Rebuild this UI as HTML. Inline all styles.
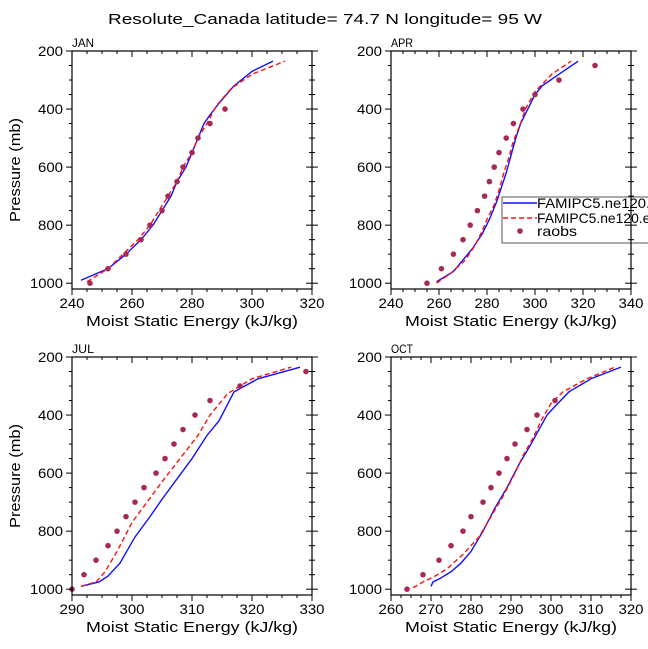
<!DOCTYPE html>
<html><head><meta charset="utf-8"><style>
html,body{margin:0;padding:0;background:#fff;}
svg{display:block;font-family:"Liberation Sans","DejaVu Sans",sans-serif;}
</style></head><body>
<svg id="chart" width="648" height="649" viewBox="0 0 648 649" xmlns="http://www.w3.org/2000/svg">
<text x="325" y="24" text-anchor="middle" font-size="15" textLength="434" lengthAdjust="spacingAndGlyphs">Resolute_Canada  latitude= 74.7 N longitude= 95 W</text>
</svg>
<script>
const panelNames = ["JAN","APR","JUL","OCT"];
const xMins = [240,240,290,260];
const xMaxs = [320,340,330,320];
const xSteps = [20,20,10,10];
const yTicks = [200,400,600,800,1000];

const janBlueE = [243,252,258,263,267,270,273,275,278,280,282,284,286,289,294,300,307];
const janBlueP = [990,950,900,850,800,750,700,650,600,550,500,450,420,380,320,270,235];
const janRedE = [245,252,257,262,266,269,272,275,277,280,282,285,288,293,300,311];
const janRedP = [995,950,900,850,800,750,700,650,600,550,500,450,390,330,280,235];
const janObsE = [246,252,258,263,266,270,272,275,277,280,282,286,291];
const janObsP = [1000,950,900,850,800,750,700,650,600,550,500,450,400];

const aprBlueE = [259,262,266,270,274,278,281,284,286,288,290,292,294,297,300,303,310,318];
const aprBlueP = [995,980,960,920,880,830,780,720,670,620,560,500,450,400,350,320,280,235];
const aprRedE = [259,265,271,275,278,280,283,285,287,289,291,294,296,300,307,315];
const aprRedP = [1000,965,920,870,820,780,730,680,620,570,510,450,400,340,280,235];
const aprObsE = [255,261,266,270,273,276,279,281,283,285,288,291,295,300,310,325];
const aprObsP = [1000,950,900,850,800,750,700,650,600,550,500,450,400,350,300,250];

const julBlueE = [291.5,294.5,296,298,300.5,303,305,307.5,310,312.5,314.5,317,321,328];
const julBlueP = [990,975,955,910,820,750,690,620,550,470,420,320,275,235];
const julRedE = [291.5,294,295.5,297.5,300,302.5,305,308,311,313,316,320,326.5];
const julRedP = [990,975,940,870,770,700,630,550,470,400,325,275,235];
const julObsE = [290,292,294,296,297.5,299,300.5,302,304,305.5,307,308.5,310.5,313,318,329];
const julObsP = [1000,950,900,850,800,750,700,650,600,550,500,450,400,350,300,250];

const octBlueE = [270,270.5,272,275,277.5,280,283,286,289,292,295,297,299,301,304.5,310,317.5];
const octBlueP = [990,975,965,940,910,870,800,720,650,570,500,450,400,370,320,275,235];
const octRedE = [265.5,268,271,274,278,282,285,288,291,293,295.5,297.5,300,303,309,316];
const octRedP = [995,975,955,930,880,820,750,680,600,540,480,420,360,320,275,235];
const octObsE = [264,268,272,275,278,280,283,285,287,289,291,294,296.5,301];
const octObsP = [1000,950,900,850,800,750,700,650,600,550,500,450,400,350];

const blueE=[janBlueE,aprBlueE,julBlueE,octBlueE], blueP=[janBlueP,aprBlueP,julBlueP,octBlueP];
const redE=[janRedE,aprRedE,julRedE,octRedE], redP=[janRedP,aprRedP,julRedP,octRedP];
const obsE=[janObsE,aprObsE,julObsE,octObsE], obsP=[janObsP,aprObsP,julObsP,octObsP];

const svg=document.getElementById('chart');
const NS="http://www.w3.org/2000/svg";
function mk(tag,attrs,parent){const e=document.createElementNS(NS,tag);for(const k in attrs)e.setAttribute(k,attrs[k]);(parent||svg).appendChild(e);return e;}
const lefts=[72,391,72,391], tops=[51,51,357,357], W=240, H=238;
const pMin=200,pMax=1020;

for(let i=0;i<4;i++){
  const L=lefts[i],T=tops[i];
  const g=mk('g',{});
  
  
  const sx=v=>L+(v-xMins[i])/(xMaxs[i]-xMins[i])*W;
  const sy=p=>T+(p-pMin)/(pMax-pMin)*H;
  const bl=mk('polyline',{points:blueE[i].map((e,j)=>sx(e)+','+sy(blueP[i][j])).join(' '),fill:'none',stroke:'#1010ff','stroke-width':1.4},g);
  
  
  const rl=mk('polyline',{points:redE[i].map((e,j)=>sx(e)+','+sy(redP[i][j])).join(' '),fill:'none',stroke:'#ff1010','stroke-width':1.4,'stroke-dasharray':'5,3'},g);
  
  
  obsE[i].forEach((e,j)=>{
    const c=mk('circle',{cx:sx(e),cy:sy(obsP[i][j]),r:2.8,fill:'#a52a58'},g);
    
    
  });
  if(i===1){
    const lg=mk('g',{},g);
    
    
    mk('rect',{x:502,y:197,width:160,height:46,fill:'#fff',stroke:'#555','stroke-width':1},lg);
    mk('line',{x1:503,y1:203,x2:537,y2:203,stroke:'#1010ff','stroke-width':1.4},lg);
    mk('line',{x1:503,y1:218,x2:537,y2:218,stroke:'#ff1010','stroke-width':1.4,'stroke-dasharray':'5,3'},lg);
    mk('circle',{cx:520,cy:231,r:2.8,fill:'#a52a58'},lg);
    const t1=mk('text',{x:537,y:208,'font-size':14,textLength:128,lengthAdjust:'spacingAndGlyphs'},lg);t1.textContent='FAMIPC5.ne120.ctl';
    
    
    const t2=mk('text',{x:537,y:223,'font-size':14,textLength:128,lengthAdjust:'spacingAndGlyphs'},lg);t2.textContent='FAMIPC5.ne120.exp';
    
    
    const t3=mk('text',{x:537,y:236,'font-size':14,textLength:40,lengthAdjust:'spacingAndGlyphs'},lg);t3.textContent='raobs';
    
    
  }
  mk('rect',{x:L,y:T,width:W,height:H,fill:'none',stroke:'#000','stroke-width':1.2},g);
  const minorX=xSteps[i]/4;
  for(let v=xMins[i];v<=xMaxs[i]+1e-6;v+=minorX){
    const x=sx(v);const maj=Math.abs((v-xMins[i])/xSteps[i]-Math.round((v-xMins[i])/xSteps[i]))<1e-6;
    const len=maj?6:3;
    mk('line',{x1:x,y1:T+H,x2:x,y2:T+H+len,stroke:'#000'},g);
    mk('line',{x1:x,y1:T,x2:x,y2:T+len,stroke:'#000'},g);
    if(maj){const t=mk('text',{x:x,y:T+H+19,'text-anchor':'middle','font-size':13.5,textLength:25,lengthAdjust:'spacingAndGlyphs'},g);t.textContent=v;
      
      }
  }
  for(let p=200;p<=1000;p+=50){
    const y=sy(p);const maj=p%200===0;const len=maj?6:3;
    mk('line',{x1:L-len,y1:y,x2:L,y2:y,stroke:'#000'},g);
    mk('line',{x1:L+W-len,y1:y,x2:L+W+len,y2:y,stroke:'#000'},g);
    if(maj){const t=mk('text',{x:L-9,y:y+5,'text-anchor':'end','font-size':13.5,textLength:(p===1000?33:25),lengthAdjust:'spacingAndGlyphs'},g);t.textContent=p;
      
      }
  }
  const pt=mk('text',{x:L,y:T-4,'font-size':12,textLength:22,lengthAdjust:'spacingAndGlyphs'},g);pt.textContent=panelNames[i];
  
  
  const xt=mk('text',{x:L+W/2,y:T+H+37,'text-anchor':'middle','font-size':15,textLength:212,lengthAdjust:'spacingAndGlyphs'},g);xt.textContent='Moist Static Energy (kJ/kg)';
  
  
  if(i%2===0){
    const cy=T+H/2;
    const yt=mk('text',{x:20,y:cy,'text-anchor':'middle','font-size':15,textLength:104,lengthAdjust:'spacingAndGlyphs',transform:'rotate(-90 20 '+cy+')'},g);yt.textContent='Pressure (mb)';
    
    
  }
}
</script>
</body></html>
